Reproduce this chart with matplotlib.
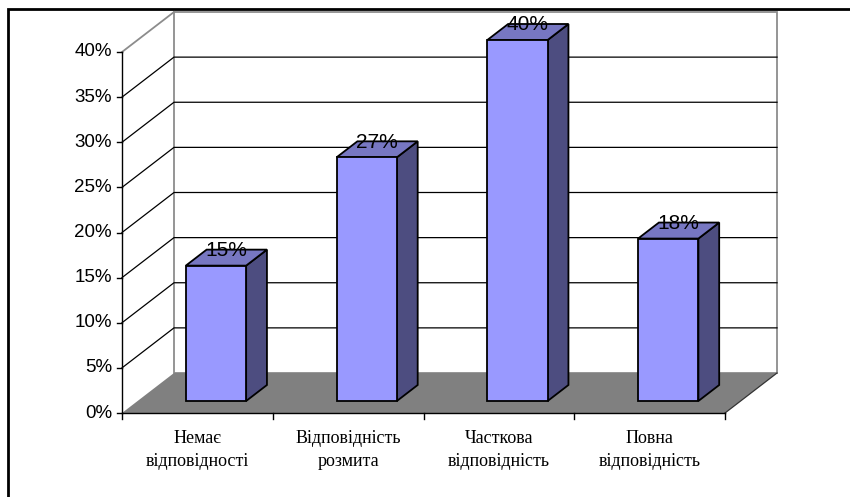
import matplotlib
matplotlib.use("Agg")
import matplotlib.pyplot as plt
from matplotlib.patches import Polygon, Rectangle

# data
categories = ["Немає\nвідповідності", "Відповідність\nрозмита",
              "Часткова\nвідповідність", "Повна\nвідповідність"]
values = [15, 27, 40, 18]
ticks = [0, 5, 10, 15, 20, 25, 30, 35, 40]
tick_labels = ["%d%%" % t for t in ticks]

# layout (pixel geometry of the reference turned into data units)
W, H = 850, 497
ORIG_X, ORIG_Y = 122, 413          # pixel of category 0 / 0%
PX_CAT, PX_PCT = 150.75, 9.025     # pixels per category / per percent
DX, DY = 52 / PX_CAT, 40 / PX_PCT  # depth offset of the back wall
N = len(categories)
YMAX = 40

FRONT = "#9999FF"
TOP = "#7777C2"
SIDE = "#4D4D80"
WALL_EDGE = "#8C8C8C"
FLOOR = "#808080"

fig = plt.figure(figsize=(W / 100, H / 100), dpi=100)
ax = fig.add_axes([0, 0, 1, 1])
ax.set_xlim(-ORIG_X / PX_CAT, (W - ORIG_X) / PX_CAT)
ax.set_ylim((ORIG_Y - H) / PX_PCT, ORIG_Y / PX_PCT)
ax.axis("off")

# outer frame (cut at right / bottom like the reference)
px = lambda x: (x - ORIG_X) / PX_CAT
py = lambda y: (ORIG_Y - y) / PX_PCT
ax.add_patch(Rectangle((px(8), py(520)), px(880) - px(8), py(9) - py(520),
                       fill=False, ec="black", lw=2, clip_on=False, zorder=0))

# side wall and back wall
ax.add_patch(Polygon([(0, 0), (0, YMAX), (DX, YMAX + DY), (DX, DY)],
                     closed=True, fc="white", ec="none", zorder=1))
ax.add_patch(Polygon([(DX, DY), (DX, YMAX + DY), (N + DX, YMAX + DY), (N + DX, DY)],
                     closed=True, fc="white", ec=WALL_EDGE, lw=1.3, zorder=1))
ax.plot([0, DX], [YMAX, YMAX + DY], color=WALL_EDGE, lw=1.3, zorder=2)

# gridlines
for t in ticks[1:-1]:
    ax.plot([0, DX, N + DX], [t, t + DY, t + DY], color="black", lw=0.9, zorder=2)

# floor
ax.add_patch(Polygon([(0, 0), (N, 0), (N + DX, DY), (DX, DY)],
                     closed=True, fc=FLOOR, ec="none", zorder=3))
ax.plot([N, N + DX], [0, DY], color="#333333", lw=0.9, zorder=3)

# axes lines and ticks
ax.plot([0, 0], [0, YMAX], color="black", lw=1, zorder=4)
ax.plot([0, N], [0, 0], color="black", lw=1, zorder=4)
for t, lab in zip(ticks, tick_labels):
    ax.plot([-5 / PX_CAT, 0], [t, t], color="black", lw=1, zorder=4)
    ax.text(px(112), t, lab, ha="right", va="center", fontsize=13.5,
            family="Liberation Sans", zorder=5)
for i in range(N + 1):
    ax.plot([i, i], [0, -6 / PX_PCT], color="black", lw=1, zorder=4)

# bars
d0, dd = 0.3, 0.4
bw = 0.4
for i, v in enumerate(values):
    x0 = i + 0.52 - bw / 2 + d0 * DX
    x1 = x0 + bw
    y0 = d0 * DY
    y1 = v + d0 * DY
    ox, oy = dd * DX, dd * DY
    ax.add_patch(Polygon([(x1, y0), (x1, y1), (x1 + ox, y1 + oy), (x1 + ox, y0 + oy)],
                         closed=True, fc=SIDE, ec="black", lw=1.3, zorder=6))
    ax.add_patch(Polygon([(x0, y1), (x1, y1), (x1 + ox, y1 + oy), (x0 + ox, y1 + oy)],
                         closed=True, fc=TOP, ec="black", lw=1.3, zorder=6))
    ax.add_patch(Rectangle((x0, y0), bw, v, fc=FRONT, ec="black", lw=1.3, zorder=7))
    ax.text((x0 + x1) / 2 + 10 / PX_CAT, y1 + 15 / PX_PCT, "%d%%" % v,
            ha="center", va="center", fontsize=15, family="Liberation Sans", zorder=8)

# category labels
for i, c in enumerate(categories):
    ax.text(i + 0.5, py(450), c, ha="center", va="center", fontsize=13,
            family="Liberation Serif", linespacing=1.4, zorder=5)

fig.savefig("out.png", dpi=100)
